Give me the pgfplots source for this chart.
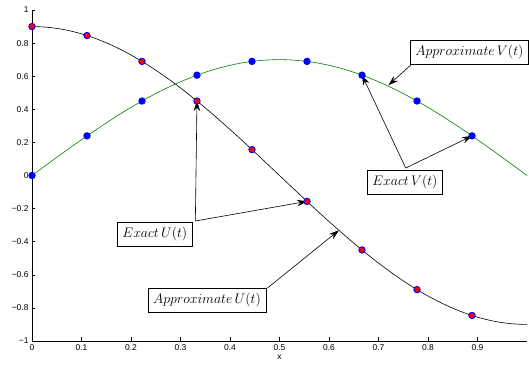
\RequirePackage{fix-cm}
\documentclass[border=0pt]{standalone}
\usepackage[no-math]{fontspec}
\setmainfont{Liberation Sans}
\usepackage{pgfplots}
\pgfplotsset{compat=1.18}
\usetikzlibrary{arrows.meta}
\definecolor{mgreen}{rgb}{0,0.5,0}
\pgfplotstableread{
x u
0 0.9
0.025 0.8972
0.05 0.8889
0.075 0.8751
0.1 0.8560
0.125 0.8315
0.15 0.8019
0.175 0.7674
0.2 0.7281
0.225 0.6844
0.25 0.6364
0.275 0.5845
0.3 0.5290
0.325 0.4703
0.35 0.4086
0.375 0.3444
0.4 0.2781
0.425 0.2101
0.45 0.1408
0.475 0.0706
0.5 0
0.525 -0.0706
0.55 -0.1408
0.575 -0.2101
0.6 -0.2781
0.625 -0.3444
0.65 -0.4086
0.675 -0.4703
0.7 -0.5290
0.725 -0.5845
0.75 -0.6364
0.775 -0.6844
0.8 -0.7281
0.825 -0.7674
0.85 -0.8019
0.875 -0.8315
0.9 -0.8560
0.925 -0.8751
0.95 -0.8889
0.975 -0.8972
1 -0.9
}\ucurve
\pgfplotstableread{
x v
0 0
0.025 0.0549
0.05 0.1095
0.075 0.1634
0.1 0.2163
0.125 0.2679
0.15 0.3178
0.175 0.3658
0.2 0.4115
0.225 0.4546
0.25 0.4950
0.275 0.5323
0.3 0.5663
0.325 0.5968
0.35 0.6237
0.375 0.6467
0.4 0.6657
0.425 0.6807
0.45 0.6914
0.475 0.6978
0.5 0.7
0.525 0.6978
0.55 0.6914
0.575 0.6807
0.6 0.6657
0.625 0.6467
0.65 0.6237
0.675 0.5968
0.7 0.5663
0.725 0.5323
0.75 0.4950
0.775 0.4546
0.8 0.4115
0.825 0.3658
0.85 0.3178
0.875 0.2679
0.9 0.2163
0.925 0.1634
0.95 0.1095
0.975 0.0549
1 0
}\vcurve
\pgfplotstableread{
x u v
0 0.9 0
0.1111 0.8457 0.2394
0.2222 0.6894 0.4500
0.3333 0.45 0.6062
0.4444 0.1563 0.6894
0.5556 -0.1563 0.6894
0.6667 -0.45 0.6062
0.7778 -0.6894 0.4500
0.8889 -0.8457 0.2394
}\pts
\begin{document}
\begin{tikzpicture}[
  lbl/.style={draw=black, fill=white, line width=0.6pt, inner xsep=5bp, inner ysep=0pt,
    minimum height=24bp, font=\fontsize{13.9}{15}\selectfont},
  arr/.style={line width=0.6pt, -{Stealth[length=10bp,width=6.5bp]}}]
\begin{axis}[
  scale only axis, width=495bp, height=331bp,
  xmin=0, xmax=1, ymin=-1, ymax=1,
  axis x line*=bottom, axis y line*=left,
  axis line style={line width=0.6pt, black},
  xtick={0,0.1,0.2,0.3,0.4,0.5,0.6,0.7,0.8,0.9},
  ytick={-1,-0.8,-0.6,-0.4,-0.2,0,0.2,0.4,0.6,0.8,1},
  yticklabels={−1,−0.8,−0.6,−0.4,−0.2,0,0.2,0.4,0.6,0.8,1},
  tick align=inside, major tick length=3.5bp,
  tick style={black, line width=0.6pt},
  ticklabel style={font=\fontsize{8.5}{10}\selectfont},
  /pgf/number format/assume math mode=true,
  xlabel={x}, xlabel style={font=\fontsize{8.5}{10}\selectfont, yshift=2bp},
  clip=false,
]
\addplot[black, line width=0.6pt, smooth] table[x=x, y=u] {\ucurve};
\addplot[mgreen, line width=0.6pt, smooth] table[x=x, y=v] {\vcurve};
\addplot[only marks, mark=*, mark size=3.2bp, mark options={fill=red, draw=blue, line width=0.9pt}] table[x=x, y=u] {\pts};
\addplot[only marks, mark=*, mark size=3.2bp, mark options={fill=blue, draw=blue, line width=0.9pt}] table[x=x, y=v] {\pts};
% arrows
\draw[arr] (axis cs:0.769,0.678) -- (axis cs:0.72,0.545);
\draw[arr] (axis cs:0.755,0.045) -- (axis cs:0.6667,0.6062);
\draw[arr] (axis cs:0.755,0.045) -- (axis cs:0.8889,0.2394);
\draw[arr] (axis cs:0.33,-0.275) -- (axis cs:0.3333,0.45);
\draw[arr] (axis cs:0.33,-0.275) -- (axis cs:0.5556,-0.1563);
\draw[arr] (axis cs:0.4757,-0.68) -- (axis cs:0.62,-0.331);
% boxes
\node[lbl, anchor=west] at (axis cs:0.764,0.746) {$Approximate\,V(t)$};
\node[lbl, anchor=west] at (axis cs:0.677,-0.042) {$Exact\,V(t)$};
\node[lbl, anchor=west] at (axis cs:0.172,-0.353) {$Exact\,U(t)$};
\node[lbl, anchor=west] at (axis cs:0.234,-0.752) {$Approximate\,U(t)$};
\end{axis}
\pgfresetboundingbox
\useasboundingbox (current axis.south west) ++(-32bp,-24bp) rectangle ++(529bp,365bp);
\end{tikzpicture}
\end{document}
